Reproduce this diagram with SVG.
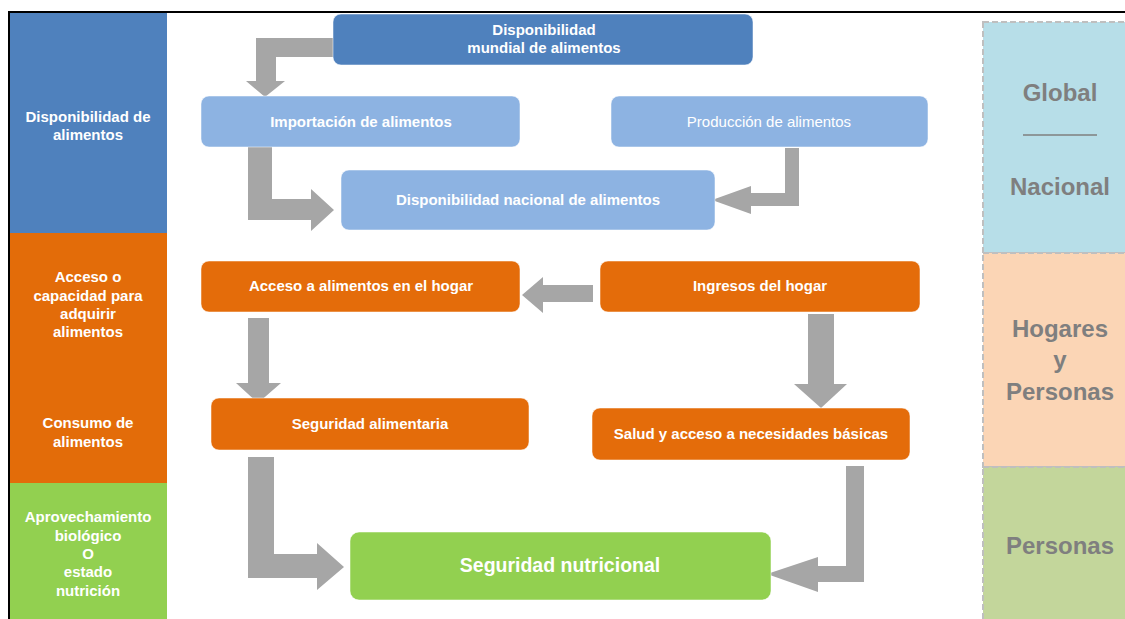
<svg xmlns="http://www.w3.org/2000/svg" width="1125" height="619" viewBox="0 0 1125 619">
<style>
.t{font-family:"Liberation Sans",Arial,sans-serif;font-weight:bold;fill:#ffffff;text-anchor:middle;font-size:15px}
.r{font-weight:normal}
.big{font-size:19.5px}
.lv{font-family:"Liberation Sans",Arial,sans-serif;font-weight:bold;fill:#7F7F7F;text-anchor:middle;font-size:24px}
.node{stroke:#ffffff;stroke-opacity:0.5;stroke-width:1}
.arrow{fill:#A6A6A6}
.band{stroke:#BFBFBF;stroke-width:2;stroke-dasharray:6 3}
</style>
<rect x="0" y="0" width="1125" height="619" fill="#ffffff"/>
<!-- outer frame -->
<path d="M9,619 V12 H1125" fill="none" stroke="#000000" stroke-width="2"/>

<!-- left column -->
<g id="left-disponibilidad">
<rect x="10" y="13" width="157" height="220" fill="#4F81BD"/>
<text class="t" x="88" y="122">Disponibilidad de</text>
<text class="t" x="88" y="140">alimentos</text>
</g>
<g id="left-acceso">
<rect x="10" y="233" width="157" height="250" fill="#E36C09"/>
<text class="t" x="88" y="282">Acceso o</text>
<text class="t" x="88" y="301">capacidad para</text>
<text class="t" x="88" y="319">adquirir</text>
<text class="t" x="88" y="337">alimentos</text>
<text class="t" x="88" y="428">Consumo de</text>
<text class="t" x="88" y="447">alimentos</text>
</g>
<g id="left-aprovechamiento">
<rect x="10" y="483" width="157" height="136" fill="#92D050"/>
<text class="t" x="88" y="522">Aprovechamiento</text>
<text class="t" x="88" y="541">biológico</text>
<text class="t" x="88" y="559">O</text>
<text class="t" x="88" y="577">estado</text>
<text class="t" x="88" y="596">nutrición</text>
</g>

<!-- right column -->
<g id="level-global">
<rect class="band" x="983" y="22" width="150" height="231" fill="#B7DEE8"/>
<text class="lv" x="1060" y="101">Global</text>
<line x1="1023" y1="135" x2="1097" y2="135" stroke="#7F7F7F" stroke-width="1.5"/>
<text class="lv" x="1060" y="195">Nacional</text>
</g>
<g id="level-hogares">
<rect class="band" x="983" y="253" width="150" height="214" fill="#FBD5B5"/>
<text class="lv" x="1060" y="337">Hogares</text>
<text class="lv" x="1060" y="368">y</text>
<text class="lv" x="1060" y="400">Personas</text>
</g>
<g id="level-personas">
<rect class="band" x="983" y="467" width="150" height="160" fill="#C3D69B"/>
<text class="lv" x="1060" y="554">Personas</text>
</g>

<!-- connectors -->
<g id="connectors">
<polygon class="arrow" points="333,38 256,38 256,81 246,81 265,97 285,81 276,81 276,57 333,57"/>
<polygon class="arrow" points="248,146 272,146 272,199 311,199 311,189 334,210 311,231 311,220 248,220"/>
<polygon class="arrow" points="785,148 799,148 799,206 751,206 751,214 712,200 751,186 751,193 785,193"/>
<polygon class="arrow" points="593,285 593,302 543,302 543,313 522,295 543,277 543,285"/>
<polygon class="arrow" points="248,318 269,318 269,383 281,383 258,403 236,383 248,383"/>
<polygon class="arrow" points="808,314 834,314 834,384 847,384 821,408 794,384 808,384"/>
<polygon class="arrow" points="248,457 274,457 274,554 317,554 317,543 344,567 317,590 317,578 248,578"/>
<polygon class="arrow" points="846,466 864,466 864,582 818,582 818,592 767,574 818,557 818,566 846,566"/>
</g>

<!-- nodes -->
<g id="n-mundial">
<rect class="node" x="333" y="14" width="420" height="51" rx="8" fill="#4F81BD"/>
<text class="t" x="544" y="35">Disponibilidad</text>
<text class="t" x="544" y="53">mundial de alimentos</text>
</g>
<g id="n-importacion">
<rect class="node" x="201" y="96" width="319" height="51" rx="8" fill="#8DB3E2"/>
<text class="t" x="361" y="127">Importación de alimentos</text>
</g>
<g id="n-produccion">
<rect class="node" x="611" y="96" width="317" height="51" rx="8" fill="#8DB3E2"/>
<text class="t r" x="769" y="127">Producción de alimentos</text>
</g>
<g id="n-nacional">
<rect class="node" x="341" y="170" width="374" height="60" rx="8" fill="#8DB3E2"/>
<text class="t" x="528" y="205">Disponibilidad nacional de alimentos</text>
</g>
<g id="n-acceso">
<rect class="node" x="201" y="261" width="319" height="51" rx="8" fill="#E46C0A"/>
<text class="t" x="361" y="291">Acceso a alimentos en el hogar</text>
</g>
<g id="n-ingresos">
<rect class="node" x="600" y="261" width="320" height="51" rx="8" fill="#E46C0A"/>
<text class="t" x="760" y="291">Ingresos del hogar</text>
</g>
<g id="n-seg-alimentaria">
<rect class="node" x="211" y="398" width="318" height="52" rx="8" fill="#E46C0A"/>
<text class="t" x="370" y="429">Seguridad alimentaria</text>
</g>
<g id="n-salud">
<rect class="node" x="592" y="408" width="318" height="52" rx="8" fill="#E46C0A"/>
<text class="t" x="751" y="439">Salud y acceso a necesidades básicas</text>
</g>
<g id="n-seg-nutricional">
<rect class="node" x="350" y="532" width="421" height="68" rx="9" fill="#92D050"/>
<text class="t big" x="560" y="572">Seguridad nutricional</text>
</g>
</svg>
